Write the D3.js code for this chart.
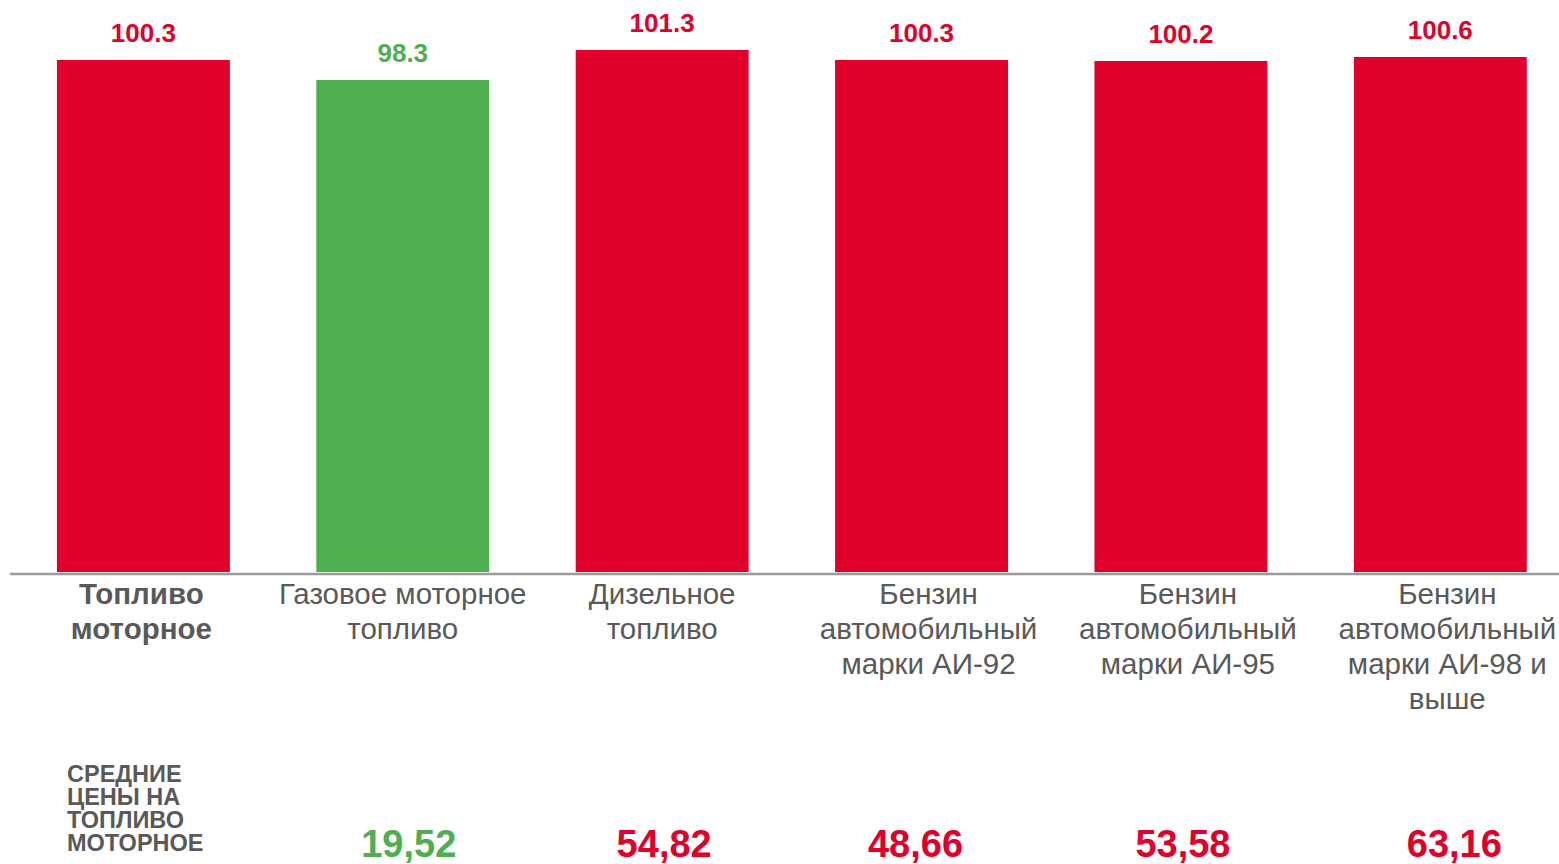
<!DOCTYPE html>
<html>
<head>
<meta charset="utf-8">
<script src="https://cdn.jsdelivr.net/npm/d3@7"></script>
<style>
  html, body { margin: 0; padding: 0; background: #fff; }
  svg { display: block; font-family: "Liberation Sans", Arial, sans-serif; }
</style>
</head>
<body>
<div class="draw"></div>
<script>
var categories = [
  'Топливо|моторное',
  'Газовое моторное|топливо',
  'Дизельное|топливо',
  'Бензин|автомобильный|марки АИ-92',
  'Бензин|автомобильный|марки АИ-95',
  'Бензин|автомобильный|марки АИ-98 и|выше'
];
var indexValues = [100.3, 98.3, 101.3, 100.3, 100.2, 100.6];
var prices = ['', '19,52', '54,82', '48,66', '53,58', '63,16'];
var rowTitle = ['СРЕДНИЕ', 'ЦЕНЫ НА', 'ТОПЛИВО', 'МОТОРНОЕ'];

var size = { w: 1559, h: 864 };
var red = '#e0002a', green = '#4eae50', grey = '#595959';

function colorOf(v) { return v < 100 ? green : red; }

var svg = d3.select('.draw').append('svg')
  .attr('width', size.w).attr('height', size.h)
  .attr('viewBox', [0, 0, size.w, size.h].join(' '));

var x = d3.scaleBand()
  .domain(categories)
  .range([13.7, 1570])
  .paddingInner(1 / 3)
  .paddingOuter(1 / 6);

var y = d3.scaleLinear()
  .domain([49.1, 101.3])
  .range([572, 50]);

// bars
svg.selectAll('rect.bar').data(categories).enter().append('rect')
  .attr('class', 'bar')
  .attr('x', function(d) { return x(d); })
  .attr('width', x.bandwidth())
  .attr('y', function(d, i) { return y(indexValues[i]); })
  .attr('height', function(d, i) { return y.range()[0] - y(indexValues[i]); })
  .attr('fill', function(d, i) { return colorOf(indexValues[i]); });

// value labels
svg.selectAll('text.val').data(categories).enter().append('text')
  .attr('class', 'val')
  .attr('x', function(d) { return x(d) + x.bandwidth() / 2; })
  .attr('y', function(d, i) { return y(indexValues[i]) - 18; })
  .attr('text-anchor', 'middle')
  .attr('font-size', 26)
  .attr('font-weight', 'bold')
  .attr('fill', function(d, i) { return colorOf(indexValues[i]); })
  .text(function(d, i) { return indexValues[i].toFixed(1); });

// axis line
svg.append('line')
  .attr('x1', 10).attr('x2', size.w)
  .attr('y1', 574).attr('y2', 574)
  .attr('stroke', '#999').attr('stroke-width', 2.5);

// category labels
svg.selectAll('text.cat').data(categories).enter().append('text')
  .attr('class', 'cat')
  .attr('text-anchor', 'middle')
  .attr('font-size', 29.5)
  .attr('font-weight', function(d, i) { return i === 0 ? 'bold' : 'normal'; })
  .attr('fill', grey)
  .each(function(d, i) {
    var lines = d.split('|');
    var cx = x(d) + x.bandwidth() / 2 + (lines.length > 2 ? 7 : 0) - (i === 0 ? 2 : 0);
    var t = d3.select(this);
    lines.forEach(function(line, j) {
      t.append('tspan').attr('x', cx).attr('y', 604 + j * 35).text(line);
    });
  });

// bottom row title
var title = svg.append('text')
  .attr('font-size', 23.5)
  .attr('font-weight', 'bold')
  .attr('fill', grey);
rowTitle.forEach(function(line, j) {
  title.append('tspan').attr('x', 67).attr('y', 782 + j * 23).text(line);
});

// bottom row prices
svg.selectAll('text.price').data(categories).enter().append('text')
  .attr('class', 'price')
  .attr('x', function(d, i) { return x(d) + x.bandwidth() / 2 + (i === 1 ? 6 : i === 5 ? 14 : i === 3 ? -6 : 2); })
  .attr('y', 857)
  .attr('text-anchor', 'middle')
  .attr('font-size', 38)
  .attr('font-weight', 'bold')
  .attr('fill', function(d, i) { return colorOf(indexValues[i]); })
  .text(function(d, i) { return prices[i]; });
</script>
</body>
</html>
